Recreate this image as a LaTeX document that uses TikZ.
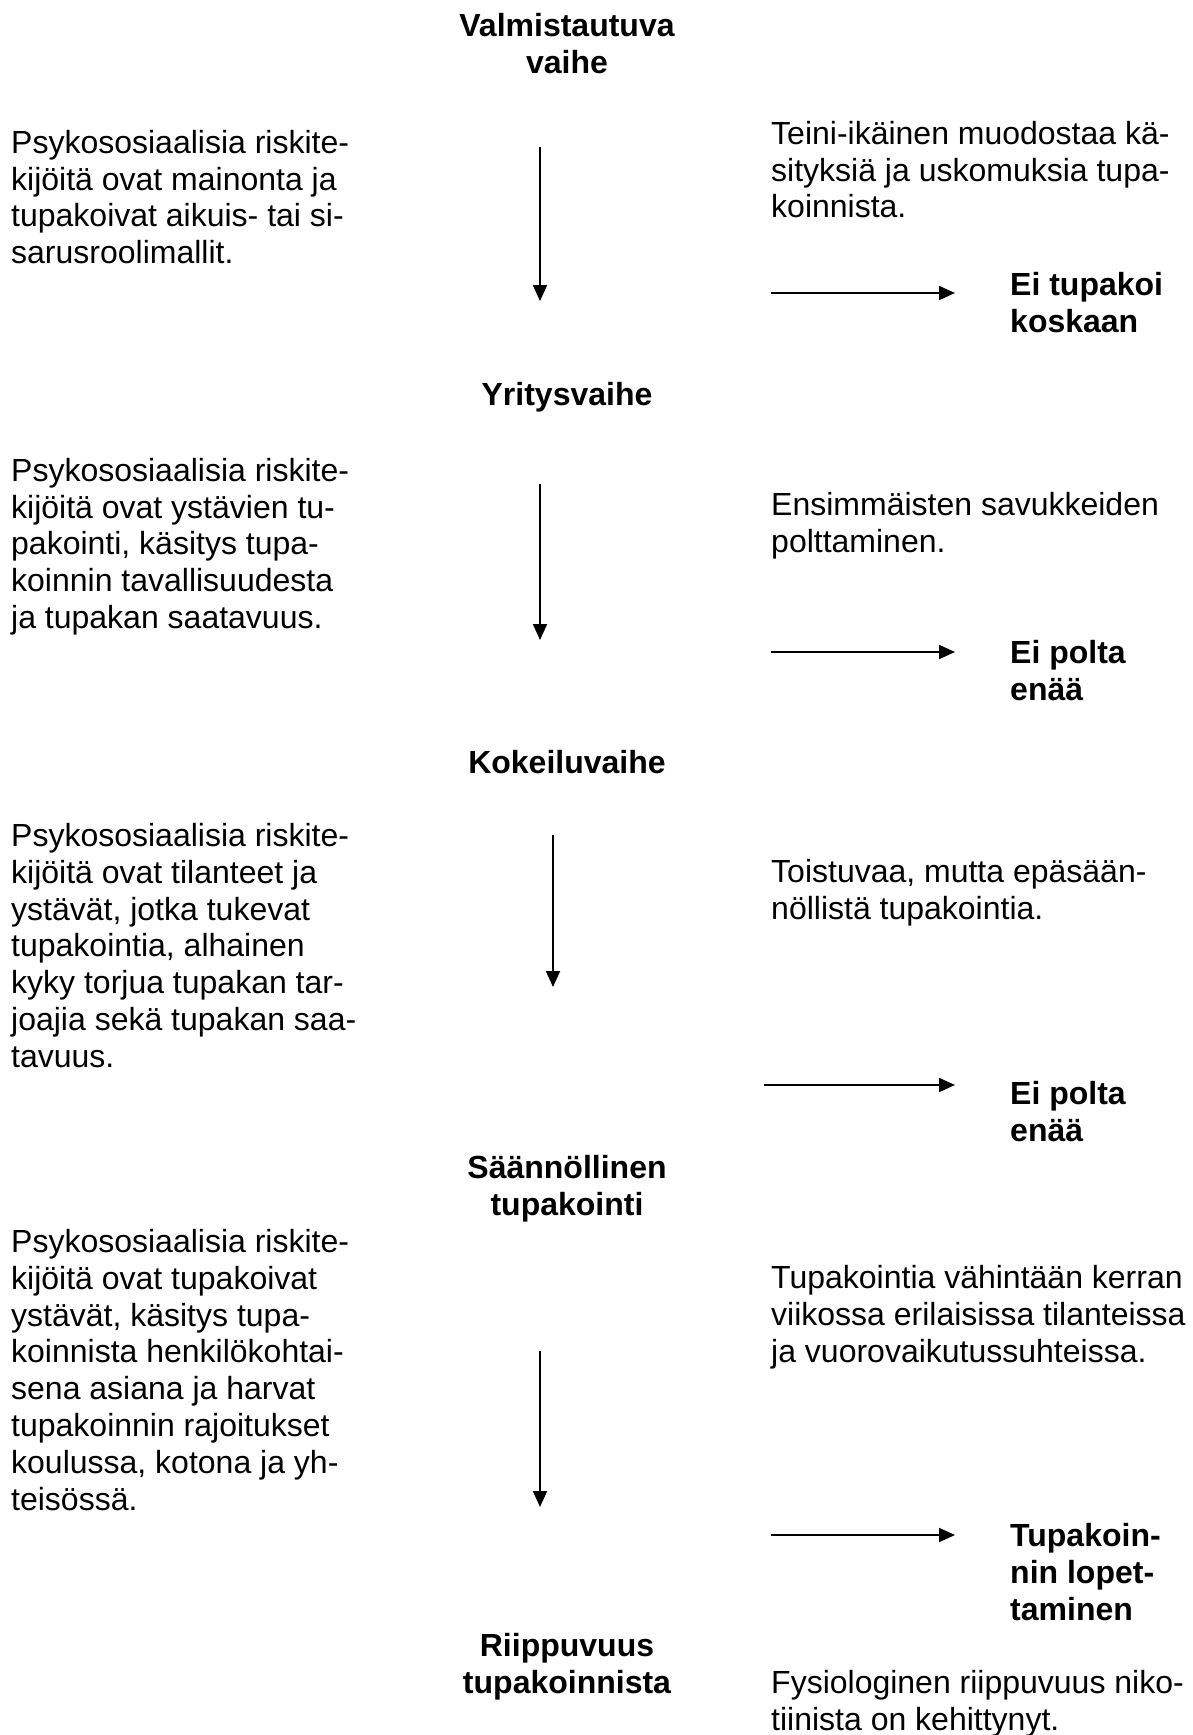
\documentclass[tikz,border=0pt]{standalone}
\usepackage{fontspec}
\setmainfont{Liberation Sans}
\usepackage{tikz}
\usetikzlibrary{arrows.meta, positioning}
\tikzset{
  phase/.style={anchor=north, align=center, inner sep=0pt,
    font=\fontsize{32}{36.8}\selectfont\bfseries, execute at begin node=\strut},
  desc/.style={anchor=north west, align=left, inner sep=0pt,
    font=\fontsize{32}{36.8}\selectfont, execute at begin node=\strut},
  outcome/.style={desc, font=\fontsize{32}{36.8}\selectfont\bfseries},
}

\begin{document}
\begin{tikzpicture}[
  x=1pt,y=-1pt,
  arrow/.style={-{Triangle[length=16pt,width=14pt]}, line width=1.8pt}
]
\useasboundingbox (0,0) rectangle (1192,1735);

% ---- phases (middle column) ----
\node[phase] (valm)  at (567,13)   {Valmistautuva\\vaihe};
\node[phase] (yrit)  at (567,380)  {Yritysvaihe};
\node[phase] (kokl)  at (567,748)  {Kokeiluvaihe};
\node[phase] (saan)  at (567,1155) {Säännöllinen\\tupakointi};
\node[phase] (riip)  at (567,1633) {Riippuvuus\\tupakoinnista};

% ---- risk factors (left column) ----
\node[desc] (risk1) at (11,130)  {Psykososiaalisia riskite-\\kijöitä ovat mainonta ja\\tupakoivat aikuis- tai si-\\sarusroolimallit.};
\node[desc] (risk2) at (11,458)  {Psykososiaalisia riskite-\\kijöitä ovat ystävien tu-\\pakointi, käsitys tupa-\\koinnin tavallisuudesta\\ja tupakan saatavuus.};
\node[desc] (risk3) at (11,823)  {Psykososiaalisia riskite-\\kijöitä ovat tilanteet ja\\ystävät, jotka tukevat\\tupakointia, alhainen\\kyky torjua tupakan tar-\\joajia sekä tupakan saa-\\tavuus.};
\node[desc] (risk4) at (11,1229) {Psykososiaalisia riskite-\\kijöitä ovat tupakoivat\\ystävät, käsitys tupa-\\koinnista henkilökohtai-\\sena asiana ja harvat\\tupakoinnin rajoitukset\\koulussa, kotona ja yh-\\teisössä.};

% ---- behaviour (right column) ----
\node[desc] (beh1) at (771,121)  {Teini-ikäinen muodostaa kä-\\sityksiä ja uskomuksia tupa-\\koinnista.};
\node[desc] (beh2) at (771,492)  {Ensimmäisten savukkeiden\\polttaminen.};
\node[desc] (beh3) at (771,859)  {Toistuvaa, mutta epäsään-\\nöllistä tupakointia.};
\node[desc] (beh4) at (771,1265) {Tupakointia vähintään kerran\\viikossa erilaisissa tilanteissa\\ja vuorovaikutussuhteissa.};
\node[desc] (beh5) at (771,1670) {Fysiologinen riippuvuus niko-\\tiinista on kehittynyt.};

% ---- exits ----
\node[outcome] (out1) at (1010,272)  {Ei tupakoi\\koskaan};
\node[outcome] (out2) at (1010,640)  {Ei polta\\enää};
\node[outcome] (out3) at (1010,1081) {Ei polta\\enää};
\node[outcome] (out4) at (1010,1523) {Tupakoin-\\nin lopet-\\taminen};

% ---- arrow ends ----
\coordinate (v1a) at (540,147);  \coordinate (v1b) at (540,301);
\coordinate (v2a) at (540,484);  \coordinate (v2b) at (540,640);
\coordinate (v3a) at (553,835);  \coordinate (v3b) at (553,987);
\coordinate (v4a) at (540,1351); \coordinate (v4b) at (540,1507);

\coordinate (h1a) at (771,293);  \coordinate (h1b) at (955,293);
\coordinate (h2a) at (771,652);  \coordinate (h2b) at (955,652);
\coordinate (h3a) at (764,1085); \coordinate (h3b) at (955,1085);
\coordinate (h4a) at (771,1535); \coordinate (h4b) at (955,1535);

% ---- connectors ----
\draw[arrow] (v1a) -- (v1b);
\draw[arrow] (v2a) -- (v2b);
\draw[arrow] (v3a) -- (v3b);
\draw[arrow] (v4a) -- (v4b);

\draw[arrow] (h1a) -- (h1b);
\draw[arrow] (h2a) -- (h2b);
\draw[arrow] (h3a) -- (h3b);
\draw[arrow] (h4a) -- (h4b);

\end{tikzpicture}
\end{document}
